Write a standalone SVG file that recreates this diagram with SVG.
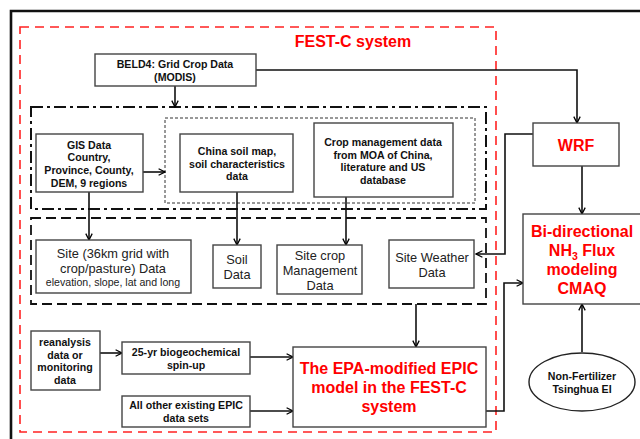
<svg xmlns="http://www.w3.org/2000/svg" width="640" height="439" viewBox="0 0 640 439">
<defs>
<marker id="arr" viewBox="0 0 10 10" refX="9" refY="5" markerWidth="8" markerHeight="8" markerUnits="userSpaceOnUse" orient="auto">
<path d="M1,1 L9,5 L1,9" fill="none" stroke="#000" stroke-width="1.6"/>
</marker>
<style>
.box{fill:#fff;stroke:#444;stroke-width:1.4}
.b{font-family:"Liberation Sans",Arial,sans-serif;font-weight:bold;font-size:10.6px;fill:#111;text-anchor:middle}
.n{font-family:"Liberation Sans",Arial,sans-serif;font-size:12.8px;fill:#222;text-anchor:middle}
.s{font-family:"Liberation Sans",Arial,sans-serif;font-size:10.6px;fill:#222;text-anchor:middle}
.r{font-family:"Liberation Sans",Arial,sans-serif;font-weight:bold;font-size:16px;fill:#f00;text-anchor:middle}
.c{fill:none;stroke:#111;stroke-width:1.6}
</style>
</defs>
<rect width="640" height="439" fill="#fff"/>
<path d="M11,439 V11 H640" fill="none" stroke="#111" stroke-width="2.6"/>
<rect x="20" y="27" width="476" height="405" fill="none" stroke="#f22" stroke-width="1.6" stroke-dasharray="9,6"/>
<text class="r" x="353" y="47">FEST-C system</text>
<rect x="31" y="107" width="455" height="102" fill="none" stroke="#111" stroke-width="2" stroke-dasharray="12,4,3,4"/>
<rect x="165" y="118" width="310" height="85" fill="none" stroke="#333" stroke-width="1" stroke-dasharray="3,2"/>
<rect x="31" y="218" width="455" height="86" fill="none" stroke="#111" stroke-width="1.8" stroke-dasharray="10,5"/>

<g id="connectors">
<path class="c" d="M175,86 V107" marker-end="url(#arr)"/>
<path class="c" d="M256,70 H577 V123" marker-end="url(#arr)"/>
<path class="c" d="M143,172 H165" marker-end="url(#arr)"/>
<path class="c" d="M89,192 V240" marker-end="url(#arr)"/>
<path class="c" d="M237,192 V245" marker-end="url(#arr)"/>
<path class="c" d="M346,197 V245" marker-end="url(#arr)"/>
<path class="c" d="M533,134 H505 V254 H476" marker-end="url(#arr)"/>
<path class="c" d="M582,166 V214" marker-end="url(#arr)"/>
<path class="c" d="M486,411 H504 V283 H523" marker-end="url(#arr)"/>
<path class="c" d="M582,352 V304" marker-end="url(#arr)"/>
<path class="c" d="M416,304 V347" marker-end="url(#arr)"/>
<path class="c" d="M100,353 H122" marker-end="url(#arr)"/>
<path class="c" d="M250,357 H293" marker-end="url(#arr)"/>
<path class="c" d="M250,411 H293" marker-end="url(#arr)"/>
</g>

<g id="beld4">
<rect class="box" x="95" y="54" width="161" height="32"/>
<text class="b" x="175" y="68">BELD4: Grid Crop Data</text>
<text class="b" x="175" y="81">(MODIS)</text>
</g>
<g id="gis">
<rect class="box" x="36" y="134" width="107" height="58"/>
<text class="b" x="89" y="149">GIS Data</text>
<text class="b" x="89" y="161">Country,</text>
<text class="b" x="89" y="174">Province, County,</text>
<text class="b" x="89" y="187">DEM, 9 regions</text>
</g>
<g id="chinasoil">
<rect class="box" x="180" y="134" width="113" height="58"/>
<text class="b" x="237" y="155">China soil map,</text>
<text class="b" x="237" y="168">soil characteristics</text>
<text class="b" x="237" y="180">data</text>
</g>
<g id="cropmgmt">
<rect class="box" x="314" y="123" width="139" height="74"/>
<text class="b" x="383" y="146">Crop management data</text>
<text class="b" x="383" y="159">from MOA of China,</text>
<text class="b" x="383" y="171">literature and US</text>
<text class="b" x="383" y="184">database</text>
</g>
<g id="site36">
<rect class="box" x="36" y="240" width="155" height="53"/>
<text class="n" x="113" y="258">Site (36km grid with</text>
<text class="n" x="113" y="273">crop/pasture) Data</text>
<text class="s" x="113" y="286">elevation, slope, lat and long</text>
</g>
<g id="soildata">
<rect class="box" x="213" y="245" width="48" height="43"/>
<text class="n" x="237" y="264">Soil</text>
<text class="n" x="237" y="279">Data</text>
</g>
<g id="sitecrop">
<rect class="box" x="277" y="245" width="85" height="49"/>
<text class="n" x="320" y="260">Site crop</text>
<text class="n" x="320" y="275">Management</text>
<text class="n" x="320" y="290">Data</text>
</g>
<g id="siteweather">
<rect class="box" x="389" y="240" width="85" height="48"/>
<text class="n" x="432" y="262">Site Weather</text>
<text class="n" x="432" y="277">Data</text>
</g>
<g id="wrf">
<rect class="box" x="533" y="123" width="86" height="43"/>
<text class="r" x="576" y="151">WRF</text>
</g>
<g id="cmaq">
<rect class="box" x="523" y="214" width="130" height="90"/>
<text class="r" x="582" y="237">Bi-directional</text>
<text class="r" x="582" y="256">NH<tspan font-size="10.5" dy="4">3</tspan><tspan dy="-4"> Flux</tspan></text>
<text class="r" x="582" y="275">modeling</text>
<text class="r" x="582" y="294">CMAQ</text>
</g>
<g id="nonfert">
<ellipse cx="582" cy="382" rx="53" ry="29" fill="#fff" stroke="#222" stroke-width="1.4"/>
<text class="b" x="582" y="380">Non-Fertilizer</text>
<text class="b" x="582" y="393">Tsinghua EI</text>
</g>
<g id="epic">
<rect class="box" x="293" y="347" width="193" height="80"/>
<text class="r" x="389" y="374">The EPA-modified EPIC</text>
<text class="r" x="389" y="393">model in the FEST-C</text>
<text class="r" x="389" y="412">system</text>
</g>
<g id="reanalysis">
<rect class="box" x="31" y="331" width="69" height="59"/>
<text class="b" x="65" y="346">reanalysis</text>
<text class="b" x="65" y="359">data or</text>
<text class="b" x="65" y="371">monitoring</text>
<text class="b" x="65" y="384">data</text>
</g>
<g id="spinup">
<rect class="box" x="122" y="342" width="128" height="32"/>
<text class="b" x="186" y="356">25-yr biogeochemical</text>
<text class="b" x="186" y="369">spin-up</text>
</g>
<g id="allother">
<rect class="box" x="122" y="396" width="128" height="31"/>
<text class="b" x="186" y="409">All other existing EPIC</text>
<text class="b" x="186" y="422">data sets</text>
</g>
</svg>
